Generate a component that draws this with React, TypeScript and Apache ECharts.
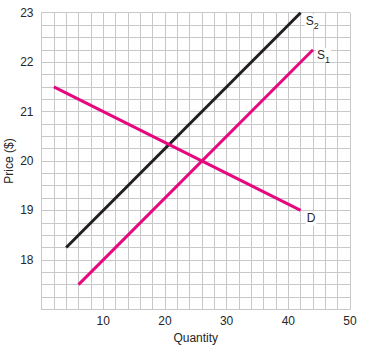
import React, { useEffect, useRef } from "react";
import * as echarts from "echarts";

const demand: [number, number][] = [[2, 21.5], [42, 19]];
const supply1: [number, number][] = [[6, 17.5], [44, 22.25]];
const supply2: [number, number][] = [[4, 18.25], [42, 23]];
const xLabels = [10, 20, 30, 40, 50];
const yLabels = [18, 19, 20, 21, 22, 23];

const PINK = "#e5087e";
const BLACK = "#231f20";
const FONT = "Liberation Sans";
const TEXT = "#262626";

function endLabel(text: string, sub: string | null, offset: [number, number]) {
  return {
    show: true,
    offset,
    distance: 3,
    formatter: sub ? `{a|${text}}{b|${sub}}` : `{a|${text}}`,
    backgroundColor: "#fff",
    padding: [1, 1, 1, 1],
    rich: {
      a: { fontSize: 12, fontFamily: FONT, color: TEXT, verticalAlign: "top", lineHeight: 12 },
      b: { fontSize: 9, fontFamily: FONT, color: TEXT, verticalAlign: "top", lineHeight: 9, padding: [6, 0, 0, 0] },
    },
  };
}

function makeSeries(data: [number, number][], color: string, label: any) {
  return {
    type: "line",
    data,
    symbol: "none",
    lineStyle: { color, width: 3 },
    endLabel: label,
    z: 5,
  };
}

export default function App() {
  const ref = useRef<HTMLDivElement>(null);
  useEffect(() => {
    const chart = echarts.init(ref.current!, null, { renderer: "svg" });
    chart.setOption({
      animation: false,
      grid: { left: 41.5, right: 22, top: 12.7, bottom: 44.7, containLabel: false, outerBoundsMode: "none" },
      xAxis: {
        type: "value",
        min: 0,
        max: 50,
        interval: 2,
        name: "Quantity",
        nameLocation: "middle",
        nameGap: 23,
        nameMoveOverlap: false,
        nameTextStyle: { fontSize: 12, fontFamily: FONT, color: TEXT, verticalAlign: "top" },
        axisLine: { show: true, lineStyle: { color: "#c8c8c8", width: 1 } },
        axisTick: { show: false },
        axisLabel: {
          fontSize: 12,
          fontFamily: FONT,
          color: TEXT,
          margin: 6,
          formatter: (v: number) => (xLabels.includes(v) ? String(v) : ""),
        },
        splitLine: { show: true, lineStyle: { color: "#c8c8c8", width: 1 } },
      },
      yAxis: {
        type: "value",
        min: 17,
        max: 23,
        interval: 0.25,
        name: "Price ($)",
        nameLocation: "middle",
        nameGap: 27,
        nameMoveOverlap: false,
        nameRotate: 90,
        nameTextStyle: { fontSize: 12, fontFamily: FONT, color: TEXT },
        axisLine: { show: true, lineStyle: { color: "#c8c8c8", width: 1 } },
        axisTick: { show: false },
        axisLabel: {
          fontSize: 12,
          fontFamily: FONT,
          color: TEXT,
          margin: 8,
          formatter: (v: number) => (yLabels.includes(v) ? String(v) : ""),
        },
        splitLine: { show: true, lineStyle: { color: "#c8c8c8", width: 1 } },
      },
      series: [
        makeSeries(supply2, BLACK, endLabel("S", "2", [1, 8.5])),
        makeSeries(supply1, PINK, endLabel("S", "1", [0, 5.5])),
        makeSeries(demand, PINK, endLabel("D", null, [2, 8])),
      ],
    });
    return () => chart.dispose();
  }, []);
  return <div ref={ref} style={{ position: "absolute", left: 0, top: 0, width: 372, height: 354 }} />;
}
